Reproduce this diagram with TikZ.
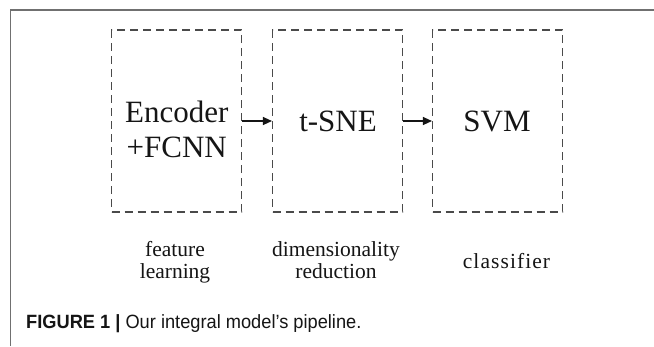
\documentclass[tikz,border=0pt]{standalone}
\usepackage{fontspec}
\setmainfont{Liberation Serif}
\newfontfamily\capfont[FakeStretch=0.95]{Liberation Sans}
\newfontfamily\labfont{Liberation Serif}
\newfontfamily\labwide[LetterSpace=5]{Liberation Serif}
\usetikzlibrary{arrows.meta}
\definecolor{framegray}{HTML}{707070}
\definecolor{dashgray}{HTML}{4A4A4A}
\definecolor{inkdark}{HTML}{151515}
\tikzset{
  stagebox/.style={draw=dashgray, line width=1.5pt, dash pattern=on 8pt off 5pt,
    minimum width=130pt, minimum height=182pt, inner sep=0pt},
  boxtext/.style={anchor=base, inner sep=0pt, text=inkdark, font=\fontsize{31}{35}\selectfont},
  labtext/.style={anchor=base, inner sep=0pt, text=inkdark, font=\labfont\fontsize{21.5}{24}\selectfont},
  flow/.style={draw=inkdark, line width=1.2pt, -{Triangle[length=9pt,width=8pt]}},
}
\begin{document}
\begin{tikzpicture}[x=1pt,y=-1pt]
\useasboundingbox (0,0) rectangle (654,346);
\fill[white] (0,0) rectangle (654,346);

% panel frame (top and left rules)
\draw[framegray, line width=1.6pt] (10.5,346) -- (10.5,9.7) -- (654,9.7);

% pipeline stages
\node[stagebox] (b1) at (176.7,121) {};
\node[stagebox] (b2) at (337.7,121) {};
\node[stagebox] (b3) at (497.7,121) {};

\node[boxtext] (t1a) at (176.7,122) {Encoder};
\node[boxtext] (t1b) at (176.7,157) {+FCNN};
\node[boxtext] (t2) at (338,131.7) {t-SNE};
\node[boxtext] (t3) at (497,131.7) {SVM};

% connectors
\draw[flow] (b1.east) -- (b2.west);
\draw[flow] (b2.east) -- (b3.west);

% stage descriptions
\node[labtext] (l1a) at (175,256.7) {feature};
\node[labtext] (l1b) at (175,278.5) {learning};
\node[labtext] (l2a) at (336,256.7) {dimensionality};
\node[labtext] (l2b) at (336,278.5) {reduction};
\node[labtext, font=\labwide\fontsize{21.5}{24}\selectfont] (l3) at (506.5,268) {classifier};

% caption
\node[anchor=base west, inner sep=0pt, text=inkdark, font=\capfont\fontsize{19.2}{22}\selectfont]
  (cap) at (26,328.3) {\textbf{FIGURE 1 |} Our integral model’s pipeline.};
\end{tikzpicture}
\end{document}
